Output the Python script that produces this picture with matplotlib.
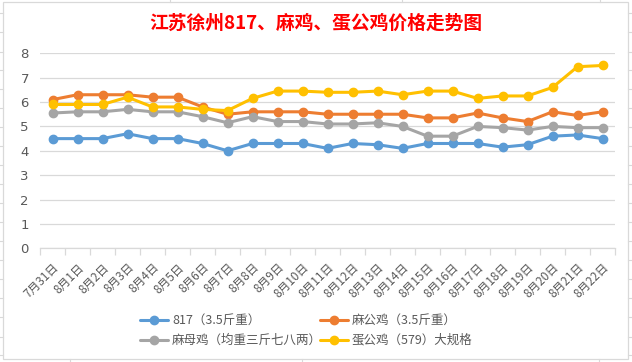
import matplotlib
matplotlib.use("Agg")
import matplotlib.pyplot as plt
from matplotlib.lines import Line2D
from matplotlib.patches import Rectangle

plt.rcParams['font.family'] = ['Noto Sans CJK SC', 'DejaVu Sans']

title = "江苏徐州817、麻鸡、蛋公鸡价格走势图"
dates = ["7月31日", "8月1日", "8月2日", "8月3日", "8月4日", "8月5日", "8月6日", "8月7日",
         "8月8日", "8月9日", "8月10日", "8月11日", "8月12日", "8月13日", "8月14日",
         "8月15日", "8月16日", "8月17日", "8月18日", "8月19日", "8月20日", "8月21日", "8月22日"]
s817 = [4.5, 4.5, 4.5, 4.7, 4.5, 4.5, 4.3, 4.0, 4.3, 4.3, 4.3, 4.1, 4.3, 4.25, 4.1,
        4.3, 4.3, 4.3, 4.15, 4.25, 4.6, 4.65, 4.5]
s_magongji = [6.1, 6.3, 6.3, 6.3, 6.2, 6.2, 5.8, 5.5, 5.6, 5.6, 5.6, 5.5, 5.5, 5.5, 5.5,
              5.35, 5.35, 5.55, 5.35, 5.2, 5.6, 5.45, 5.6]
s_mamuji = [5.55, 5.6, 5.6, 5.7, 5.6, 5.6, 5.4, 5.15, 5.4, 5.2, 5.2, 5.1, 5.1, 5.15, 5.0,
            4.6, 4.6, 5.0, 4.95, 4.85, 5.0, 4.95, 4.95]
s_dangongji = [5.9, 5.9, 5.9, 6.2, 5.8, 5.8, 5.7, 5.65, 6.15, 6.45, 6.45, 6.4, 6.4, 6.45, 6.3,
               6.45, 6.45, 6.15, 6.25, 6.25, 6.6, 7.45, 7.5]
names = ["817（3.5斤重）", "麻公鸡（3.5斤重）", "麻母鸡（均重三斤七八两）", "蛋公鸡（579）大规格"]
colors = ["#5B9BD5", "#ED7D31", "#A5A5A5", "#FFC000"]
yticks = [0, 1, 2, 3, 4, 5, 6, 7, 8]

W, H = 632, 362
fig = plt.figure(figsize=(W / 100, H / 100), dpi=100)
fig.patch.set_facecolor("white")

# spreadsheet-like surroundings and chart frame
grid_c = "#D9D9D9"
for yy in [13, 32, 52, 70, 89, 108, 127, 146, 165, 184, 203, 222, 241, 260, 279, 298, 317, 337, 355]:
    fig.add_artist(Line2D([0, 3 / W], [1 - yy / H] * 2, color=grid_c, lw=0.8))
    fig.add_artist(Line2D([628 / W, 1], [1 - yy / H] * 2, color=grid_c, lw=0.8))
for xx in [170, 402, 600]:
    fig.add_artist(Line2D([xx / W] * 2, [1, 1 - 2 / H], color=grid_c, lw=0.8))
for xx in [70, 302, 599]:
    fig.add_artist(Line2D([xx / W] * 2, [0, 3 / H], color=grid_c, lw=0.8))
fig.add_artist(Rectangle((3 / W, 3 / H), 625 / W, 357 / H, fill=False, ec=grid_c, lw=0.9))

left, right, top, bottom = 40, 615, 53.3, 248.3
ax = fig.add_axes([left / W, 1 - bottom / H, (right - left) / W, (bottom - top) / H])
ax.set_facecolor("none")

x = list(range(len(dates)))
series = [s817, s_magongji, s_mamuji, s_dangongji]
for s, c, n in zip(series, colors, names):
    ax.plot(x, s, color=c, lw=2.2, marker="o", markersize=6, label=n,
            solid_capstyle="round", solid_joinstyle="round", zorder=3)

ax.set_xlim(-0.5, len(dates) - 0.5)
ax.set_ylim(0, 8)
ax.set_yticks(yticks)
ax.set_yticklabels([str(v) for v in yticks], fontsize=9.5, color="#595959", family="DejaVu Sans")
ax.yaxis.grid(True, color=grid_c, lw=0.9)
ax.set_axisbelow(True)
ax.tick_params(axis="y", length=0, pad=8)
for sp in ["left", "right", "top"]:
    ax.spines[sp].set_visible(False)
ax.spines["bottom"].set_color(grid_c)
ax.spines["bottom"].set_linewidth(0.9)

ax.set_xticks(x)
ax.set_xticklabels(dates, rotation=45, ha="right", va="top", rotation_mode="anchor",
                   fontsize=8.5, color="#595959")
ax.tick_params(axis="x", which="major", length=0, pad=9)
ax.set_xticks([i - 0.5 for i in range(len(dates) + 1)], minor=True)
ax.tick_params(axis="x", which="minor", length=5, color=grid_c, width=0.9, direction="out")

fig.text(316 / W, 1 - 23.5 / H, title, ha="center", va="center", fontsize=13.5,
         fontweight="bold", color="#FF0000")

# legend
leg_pos = [(140, 320), (320, 320), (140, 340), (320, 340)]
for (lx, ly), c, n in zip(leg_pos, colors, names):
    fig.add_artist(Line2D([lx / W, (lx + 28) / W], [1 - ly / H] * 2, color=c, lw=2.2,
                          solid_capstyle="round"))
    fig.add_artist(Line2D([(lx + 14) / W], [1 - ly / H], color=c, marker="o", markersize=6))
    fig.text((lx + 32) / W, 1 - ly / H, n, ha="left", va="center", fontsize=9, color="#595959")

fig.savefig("out.png", dpi=100, facecolor="white")
